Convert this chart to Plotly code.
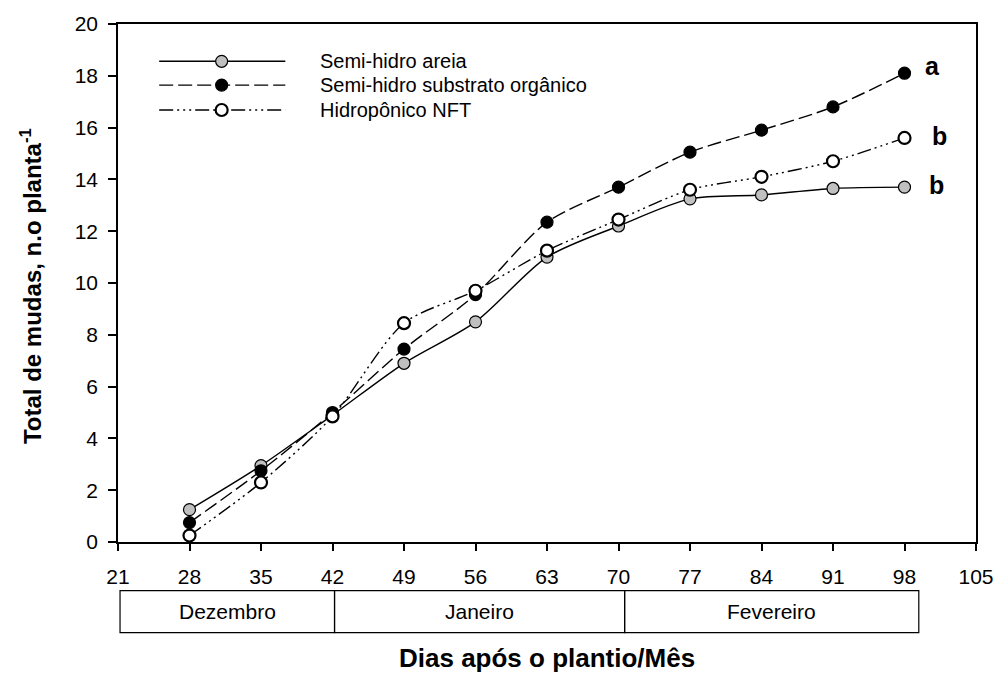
import plotly.graph_objects as go

# ---------------- data ----------------
days = [28, 35, 42, 49, 56, 63, 70, 77, 84, 91, 98]
areia = [1.25, 2.95, 4.9, 6.9, 8.5, 11.0, 12.2, 13.25, 13.4, 13.65, 13.7]
substrato = [0.75, 2.75, 5.0, 7.45, 9.55, 12.35, 13.7, 15.05, 15.9, 16.8, 18.1]
nft = [0.25, 2.3, 4.85, 8.45, 9.7, 11.25, 12.45, 13.6, 14.1, 14.7, 15.6]

series_names = ["Semi-hidro areia", "Semi-hidro substrato orgânico", "Hidropônico NFT"]
sig_letters = ["b", "a", "b"]

x_ticks = [21, 28, 35, 42, 49, 56, 63, 70, 77, 84, 91, 98, 105]
y_ticks = [0, 2, 4, 6, 8, 10, 12, 14, 16, 18, 20]

months = ["Dezembro", "Janeiro", "Fevereiro"]
month_start = [21.2, 42.2, 70.6]
month_end = [42.2, 70.6, 99.4]

# ---------------- styles ----------------
FONT = "Liberation Sans, Arial, sans-serif"
series_values = [areia, substrato, nft]
styles = [
    dict(dash="solid", fill="#c0c0c0", ol=1.2),
    dict(dash="14px,5px", fill="#000000", ol=1.2),
    dict(dash="14px,4px,2px,4px,2px,4px,2px,4px", fill="#ffffff", ol=2.2),
]
letter_shift = [(32, 2), (28, 7), (35, 2)]

fig = go.Figure()

for name, vals, st in zip(series_names, series_values, styles):
    fig.add_trace(go.Scatter(
        x=days, y=vals, name=name, mode="lines+markers",
        line=dict(color="black", width=1.4, dash=st["dash"], shape="spline", smoothing=0.8),
        marker=dict(size=12, color=st["fill"], line=dict(color="black", width=st["ol"])),
        cliponaxis=False, showlegend=False,
    ))

# significance letters at the end of each series
for vals, letter, (dx, dy) in zip(series_values, sig_letters, letter_shift):
    fig.add_annotation(
        x=days[-1], y=vals[-1], text=letter, showarrow=False,
        xshift=dx, yshift=dy, xanchor="center", yanchor="middle",
        font=dict(family=FONT, size=25, color="black", weight="bold"),
    )

# ---------------- manual legend (overlay axes 0..1) ----------------
leg_rows = [0.928, 0.882, 0.834]
leg_x0, leg_xm, leg_x1, leg_tx = 0.048, 0.1208, 0.195, 0.233
for name, st, ry in zip(series_names, styles, leg_rows):
    fig.add_trace(go.Scatter(
        x=[leg_x0, leg_x1], y=[ry, ry], mode="lines", xaxis="x2", yaxis="y2",
        line=dict(color="black", width=1.4, dash=st["dash"]),
        showlegend=False, hoverinfo="skip",
    ))
    fig.add_trace(go.Scatter(
        x=[leg_xm], y=[ry], mode="markers", xaxis="x2", yaxis="y2",
        marker=dict(size=12, color=st["fill"], line=dict(color="black", width=st["ol"])),
        showlegend=False, hoverinfo="skip",
    ))
    fig.add_annotation(
        x=leg_tx, y=ry, xref="x2", yref="y2", text=name, showarrow=False,
        xanchor="left", yanchor="middle",
        font=dict(family=FONT, size=20, color="black"),
    )

# ---------------- month boxes ----------------
box_y0, box_y1 = -0.175, -0.094
for m, s, e in zip(months, month_start, month_end):
    fig.add_shape(type="rect", xref="x", yref="paper", x0=s, x1=e, y0=box_y0, y1=box_y1,
                  line=dict(color="black", width=1.2), fillcolor="rgba(0,0,0,0)")
    fig.add_annotation(x=(s + e) / 2, y=(box_y0 + box_y1) / 2, xref="x", yref="paper",
                       text=m, showarrow=False, xanchor="center", yanchor="middle",
                       font=dict(family=FONT, size=21, color="black"))

# axis titles
fig.add_annotation(x=0.5, y=-0.223, xref="paper", yref="paper",
                   text="Dias após o plantio/Mês", showarrow=False,
                   xanchor="center", yanchor="middle",
                   font=dict(family=FONT, size=26, color="black", weight="bold"))
fig.add_annotation(x=-0.1015, y=0.494, xref="paper", yref="paper",
                   text="Total de mudas, n.o planta<sup>-1</sup>", showarrow=False,
                   textangle=-90, xanchor="center", yanchor="middle",
                   font=dict(family=FONT, size=24, color="black", weight="bold"))

axis_common = dict(showgrid=False, zeroline=False, showline=True, linecolor="black",
                   linewidth=1.6, mirror=True, ticks="outside", tickwidth=1.5,
                   tickcolor="black", tickfont=dict(family=FONT, size=21, color="black"))

fig.update_layout(
    width=1006, height=675, autosize=False,
    margin=dict(l=118, r=21, t=22, b=133),
    paper_bgcolor="white", plot_bgcolor="white",
    showlegend=False,
    xaxis=dict(range=[21, 105], tickvals=x_ticks, ticklen=7, ticklabelstandoff=8,
               **axis_common),
    yaxis=dict(range=[0, 20], tickvals=y_ticks, ticklen=8, ticklabelstandoff=6,
               **axis_common),
    xaxis2=dict(range=[0, 1], overlaying="x", anchor="y2", visible=False, domain=[0, 1]),
    yaxis2=dict(range=[0, 1], overlaying="y", anchor="x2", visible=False, domain=[0, 1]),
)

fig.write_html("out.html")
